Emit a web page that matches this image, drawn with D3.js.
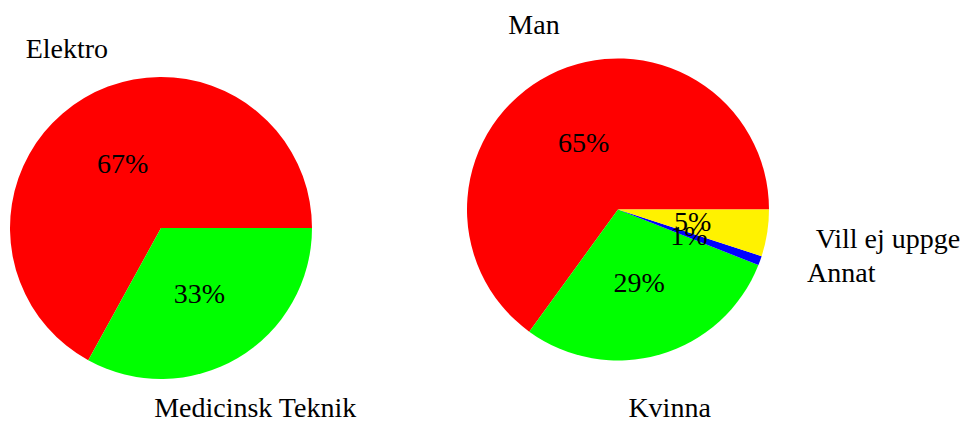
<!DOCTYPE html>
<html><head><meta charset="utf-8">
<script src="https://cdn.jsdelivr.net/npm/d3@7"></script>
<style>
html,body{margin:0;padding:0;background:#fff;}
</style></head>
<body>
<svg id="chart" width="965" height="421"></svg>
<script>
// Left pie: program
const leftCategories = ["Elektro", "Medicinsk Teknik"];
const leftValues = [67, 33];
const leftColors = ["#ff0000", "#00ff00"];
// Right pie: gender
const rightCategories = ["Man", "Kvinna", "Annat", "Vill ej uppge"];
const rightValues = [65, 29, 1, 5];
const rightColors = ["#ff0000", "#00ff00", "#0000ff", "#fff200"];

const FONT = "'Liberation Serif', 'DejaVu Serif', serif";
const svg = d3.select("#chart");
const R = 151;

function drawPie(cx, cy, cats, vals, cols) {
  const data = cats.map((c, i) => ({cat: c, val: vals[i], col: cols[i]}));
  // start at 3 o'clock, go counter-clockwise (as in pgf-pie)
  const pie = d3.pie().sort(null).value(d => d.val)
    .startAngle(Math.PI / 2).endAngle(Math.PI / 2 - 2 * Math.PI);
  const arcs = pie(data);
  const arc = d3.arc().innerRadius(0).outerRadius(R);
  const g = svg.append("g").attr("transform", `translate(${cx},${cy})`)
    .attr("font-family", FONT).attr("font-size", 28);
  g.selectAll("path.slice").data(arcs).enter().append("path")
    .attr("class", "slice")
    .attr("d", arc)
    .attr("fill", d => d.data.col);

  const pt = (a, r) => [Math.sin(a) * r, -Math.cos(a) * r];
  const total = d3.sum(vals);

  // percent labels
  g.selectAll("text.pct").data(arcs).enter().append("text")
    .attr("class", "pct")
    .attr("text-anchor", "middle")
    .attr("dy", "0.34em")
    .attr("x", d => pt((d.startAngle + d.endAngle) / 2, R * 0.5)[0])
    .attr("y", d => pt((d.startAngle + d.endAngle) / 2, R * 0.5)[1])
    .text(d => Math.round(d.data.val / total * 100) + "%");

  // category labels outside
  g.selectAll("text.cat").data(arcs).enter().append("text")
    .attr("class", "cat")
    .each(function(d) {
      const a = (d.startAngle + d.endAngle) / 2;
      const [x, y] = pt(a, R * 1.225);
      const sx = Math.sin(a), cy2 = -Math.cos(a);
      const t = d3.select(this).attr("dy", "0.34em");
      if (sx > 0.8) {
        t.attr("text-anchor", "start").attr("x", x + 15).attr("y", y);
      } else if (sx < -0.8) {
        t.attr("text-anchor", "end").attr("x", x - 15).attr("y", y);
      } else {
        t.attr("text-anchor", "middle").attr("x", x).attr("y", y + (cy2 < 0 ? -20 : 20));
      }
    })
    .text(d => d.data.cat);
}

drawPie(161, 228, leftCategories, leftValues, leftColors);
drawPie(618, 209.5, rightCategories, rightValues, rightColors);
</script>
</body></html>
